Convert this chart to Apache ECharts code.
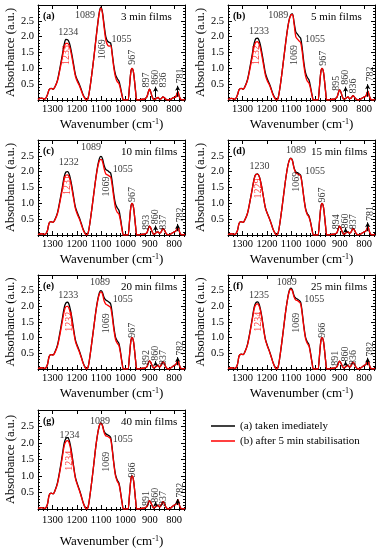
<!DOCTYPE html>
<html><head><meta charset="utf-8">
<script src="https://cdn.jsdelivr.net/npm/echarts@6/dist/echarts.min.js"></script>
<style>html,body{margin:0;padding:0;background:#fff}#c{width:380px;height:550px}</style>
</head><body><div id="c"></div>
<script>
// ---------- data ----------
const wavenumber = [1360,1345,1332,1322,1314,1306,1298,1290,1280,1270,
 1260,1252,1245,1238,1230,1222,1214,1206,1198,1190,1182,1174,1166,1160,
 1154,1146,1138,1130,1122,1114,1107,1101,1095,1088,1081,1074,1067,1061,1055,1048,1041,1034,1027,1020,1014,1008,1002,996,990,
 984,978,973,968,963,958,953,946,
 935,922,912,906,901,896,890,883,877,871,866,860,853,846,840,833,824,814,806,799,793,788,784,779,772,764,755];

const xTickLabels = [1300,1200,1100,1000,900,800];
const xMinorTicks = [1360,1340,1320,1280,1260,1240,1220,1180,1160,1140,1120,1080,1060,1040,1020,980,960,940,920,880,860,840,820,780,760];
const yTickLabels = [0.5,1.0,1.5,2.0,2.5];

const panelTags = ['(a)','(b)','(c)','(d)','(e)','(f)','(g)'];
const panelTitles = ['3 min films','5 min films','10 min films','15 min films','20 min films','25 min films','40 min films'];
const legendNames = ['(a) taken imediately','(b) after 5 min stabilisation'];

const black_a = [0.02,0.06,0.03,0.15,0.33,0.37,0.34,0.42,0.62,1.0,
 1.42,1.76,1.91,1.9,1.78,1.5,1.15,0.8,0.63,0.5,0.33,0.16,0.05,0.0,
 0.05,0.4,0.85,1.35,1.9,2.42,2.8,2.93,2.78,2.38,2.0,1.86,1.82,1.8,1.5,1.08,0.8,0.68,0.6,0.38,0.15,0.0,0.0,0.0,0.0,
 0.38,0.88,1.0,0.92,0.62,0.25,0.0,0.0,
 0.02,0.03,0.1,0.25,0.34,0.25,0.1,0.02,0.03,0.06,0.08,0.03,0.04,0.1,0.07,0.02,0.0,0.02,0.06,0.08,0.1,0.2,0.26,0.12,0.02,0.0,0.02];
const red_a = [0.02,0.06,0.03,0.15,0.33,0.37,0.34,0.42,0.6,0.95,
 1.35,1.66,1.79,1.79,1.68,1.42,1.08,0.75,0.58,0.46,0.3,0.14,0.04,0.0,
 0.05,0.4,0.85,1.35,1.88,2.4,2.78,2.9,2.75,2.3,1.9,1.74,1.7,1.72,1.45,1.02,0.72,0.58,0.52,0.33,0.13,0.0,0.0,0.0,0.0,
 0.38,0.88,1.0,0.92,0.62,0.25,0.0,0.0,
 0.02,0.03,0.1,0.25,0.34,0.25,0.1,0.02,0.03,0.06,0.08,0.03,0.04,0.1,0.07,0.02,0.0,0.02,0.06,0.08,0.1,0.2,0.26,0.12,0.02,0.0,0.02];

const black_b = [0.02,0.05,0.02,0.14,0.33,0.37,0.34,0.43,0.64,1.02,
 1.45,1.8,1.94,1.95,1.83,1.55,1.2,0.85,0.66,0.52,0.35,0.17,0.05,0.0,
 0.05,0.4,0.85,1.35,1.85,2.3,2.58,2.7,2.72,2.45,2.15,2.08,2.0,1.95,1.66,1.2,0.86,0.72,0.64,0.4,0.16,0.0,0.0,0.0,0.0,
 0.38,0.88,1.0,0.92,0.62,0.25,0.0,0.0,
 0.02,0.03,0.08,0.22,0.32,0.26,0.12,0.03,0.04,0.08,0.1,0.04,0.06,0.14,0.1,0.03,0.0,0.03,0.07,0.1,0.12,0.22,0.28,0.14,0.02,0.0,0.02];
const red_b = [0.02,0.05,0.02,0.14,0.33,0.37,0.34,0.42,0.61,0.97,
 1.38,1.7,1.83,1.84,1.73,1.46,1.12,0.78,0.6,0.48,0.32,0.15,0.04,0.0,
 0.05,0.4,0.85,1.35,1.84,2.28,2.56,2.68,2.7,2.4,2.0,1.92,1.86,1.81,1.55,1.1,0.76,0.6,0.54,0.35,0.14,0.0,0.0,0.0,0.0,
 0.38,0.88,1.0,0.92,0.62,0.25,0.0,0.0,
 0.02,0.03,0.08,0.22,0.32,0.26,0.12,0.03,0.04,0.08,0.1,0.04,0.06,0.14,0.1,0.03,0.0,0.03,0.07,0.1,0.12,0.22,0.28,0.14,0.02,0.0,0.02];

const black_c = [0.02,0.04,0.02,0.12,0.38,0.42,0.4,0.5,0.7,1.08,
 1.5,1.85,1.99,2.0,1.88,1.6,1.23,0.88,0.7,0.55,0.37,0.18,0.05,0.0,
 0.05,0.4,0.85,1.33,1.8,2.2,2.42,2.48,2.42,2.2,2.07,2.04,1.99,1.96,1.7,1.28,0.98,0.86,0.78,0.5,0.2,0.0,0.0,0.0,0.0,
 0.38,0.88,1.0,0.92,0.62,0.25,0.0,0.0,
 0.02,0.03,0.07,0.2,0.28,0.22,0.1,0.02,0.05,0.09,0.1,0.05,0.1,0.2,0.16,0.05,0.0,0.03,0.07,0.1,0.12,0.2,0.26,0.13,0.02,0.0,0.02];
const red_c = [0.02,0.04,0.02,0.12,0.38,0.42,0.4,0.48,0.67,1.03,
 1.43,1.76,1.89,1.9,1.79,1.52,1.17,0.83,0.65,0.51,0.34,0.16,0.04,0.0,
 0.05,0.4,0.85,1.32,1.78,2.15,2.35,2.39,2.33,2.1,1.93,1.9,1.86,1.83,1.58,1.18,0.85,0.72,0.66,0.43,0.17,0.0,0.0,0.0,0.0,
 0.38,0.88,1.0,0.92,0.62,0.25,0.0,0.0,
 0.02,0.03,0.07,0.2,0.28,0.22,0.1,0.02,0.05,0.09,0.1,0.05,0.1,0.2,0.16,0.05,0.0,0.03,0.07,0.1,0.12,0.2,0.26,0.13,0.02,0.0,0.02];

const black_d = [0.02,0.04,0.02,0.12,0.37,0.42,0.4,0.49,0.68,1.05,
 1.46,1.79,1.92,1.93,1.82,1.55,1.2,0.86,0.68,0.53,0.36,0.17,0.05,0.0,
 0.05,0.4,0.85,1.33,1.8,2.18,2.38,2.43,2.36,2.12,1.99,1.97,1.93,1.89,1.62,1.2,0.85,0.68,0.6,0.4,0.17,0.0,0.0,0.0,0.0,
 0.38,0.88,1.0,0.92,0.62,0.25,0.0,0.0,
 0.02,0.03,0.07,0.2,0.28,0.22,0.1,0.02,0.05,0.09,0.1,0.05,0.1,0.2,0.16,0.05,0.0,0.03,0.07,0.1,0.12,0.2,0.26,0.13,0.02,0.0,0.02];
const red_d = [0.02,0.04,0.02,0.12,0.37,0.42,0.4,0.49,0.68,1.04,
 1.45,1.78,1.91,1.92,1.81,1.54,1.19,0.85,0.67,0.52,0.35,0.17,0.05,0.0,
 0.05,0.4,0.85,1.33,1.8,2.17,2.37,2.42,2.35,2.1,1.96,1.93,1.9,1.86,1.6,1.18,0.82,0.65,0.57,0.38,0.16,0.0,0.0,0.0,0.0,
 0.38,0.88,1.0,0.92,0.62,0.25,0.0,0.0,
 0.02,0.03,0.07,0.2,0.28,0.22,0.1,0.02,0.05,0.09,0.1,0.05,0.1,0.2,0.16,0.05,0.0,0.03,0.07,0.1,0.12,0.2,0.26,0.13,0.02,0.0,0.02];

const black_e = [0.02,0.04,0.02,0.12,0.4,0.46,0.45,0.55,0.76,1.15,
 1.6,1.96,2.11,2.13,2.0,1.7,1.3,0.93,0.74,0.58,0.39,0.19,0.05,0.0,
 0.05,0.42,0.88,1.36,1.84,2.22,2.44,2.5,2.45,2.28,2.2,2.17,2.13,2.08,1.8,1.35,1.02,0.9,0.82,0.52,0.2,0.0,0.0,0.0,0.0,
 0.38,0.88,1.0,0.92,0.62,0.25,0.0,0.0,
 0.02,0.03,0.07,0.19,0.26,0.21,0.1,0.03,0.06,0.1,0.12,0.06,0.12,0.23,0.18,0.05,0.0,0.03,0.08,0.12,0.14,0.22,0.28,0.14,0.02,0.0,0.02];
const red_e = [0.02,0.04,0.02,0.12,0.4,0.46,0.44,0.53,0.72,1.09,
 1.51,1.85,1.99,2.0,1.88,1.6,1.23,0.88,0.7,0.55,0.37,0.18,0.05,0.0,
 0.05,0.42,0.88,1.35,1.82,2.19,2.4,2.46,2.4,2.18,2.07,2.04,2.0,1.96,1.7,1.27,0.95,0.82,0.75,0.48,0.18,0.0,0.0,0.0,0.0,
 0.38,0.88,1.0,0.92,0.62,0.25,0.0,0.0,
 0.02,0.03,0.07,0.19,0.26,0.21,0.1,0.03,0.06,0.1,0.12,0.06,0.12,0.23,0.18,0.05,0.0,0.03,0.08,0.12,0.14,0.22,0.28,0.14,0.02,0.0,0.02];

const black_f = [0.02,0.04,0.02,0.12,0.42,0.47,0.46,0.56,0.78,1.17,
 1.62,1.98,2.12,2.14,2.02,1.72,1.32,0.95,0.75,0.58,0.39,0.19,0.05,0.0,
 0.05,0.42,0.88,1.38,1.88,2.28,2.52,2.58,2.52,2.34,2.26,2.23,2.19,2.13,1.83,1.38,1.02,0.87,0.78,0.5,0.2,0.0,0.0,0.0,0.0,
 0.38,0.88,1.0,0.92,0.62,0.25,0.0,0.0,
 0.02,0.03,0.07,0.18,0.25,0.2,0.1,0.03,0.06,0.1,0.12,0.06,0.11,0.22,0.17,0.05,0.0,0.03,0.08,0.12,0.14,0.22,0.28,0.14,0.02,0.0,0.02];
const red_f = [0.02,0.04,0.02,0.12,0.42,0.47,0.46,0.55,0.76,1.14,
 1.58,1.93,2.06,2.08,1.97,1.68,1.29,0.93,0.73,0.57,0.38,0.19,0.05,0.0,
 0.05,0.42,0.88,1.38,1.87,2.26,2.5,2.55,2.49,2.3,2.2,2.18,2.14,2.08,1.78,1.34,0.98,0.82,0.74,0.47,0.19,0.0,0.0,0.0,0.0,
 0.38,0.88,1.0,0.92,0.62,0.25,0.0,0.0,
 0.02,0.03,0.07,0.18,0.25,0.2,0.1,0.03,0.06,0.1,0.12,0.06,0.11,0.22,0.17,0.05,0.0,0.03,0.08,0.12,0.14,0.22,0.28,0.14,0.02,0.0,0.02];

const black_g = [0.02,0.04,0.02,0.12,0.42,0.48,0.46,0.56,0.79,1.18,
 1.63,2.0,2.14,2.16,2.04,1.73,1.33,0.96,0.76,0.59,0.4,0.19,0.05,0.0,
 0.05,0.42,0.88,1.38,1.9,2.3,2.54,2.6,2.54,2.36,2.28,2.25,2.22,2.17,1.86,1.4,1.04,0.88,0.79,0.5,0.2,0.0,0.0,0.0,0.0,
 0.38,0.88,1.0,0.92,0.62,0.25,0.0,0.0,
 0.02,0.03,0.07,0.18,0.25,0.2,0.1,0.03,0.06,0.1,0.12,0.06,0.11,0.22,0.17,0.05,0.0,0.03,0.08,0.12,0.14,0.22,0.28,0.14,0.02,0.0,0.02];
const red_g = [0.02,0.04,0.02,0.12,0.42,0.48,0.46,0.55,0.76,1.13,
 1.56,1.92,2.05,2.07,1.96,1.67,1.29,0.93,0.73,0.57,0.38,0.19,0.05,0.0,
 0.05,0.42,0.88,1.38,1.9,2.3,2.54,2.6,2.53,2.32,2.22,2.2,2.17,2.12,1.82,1.37,1.0,0.84,0.75,0.48,0.19,0.0,0.0,0.0,0.0,
 0.38,0.88,1.0,0.92,0.62,0.25,0.0,0.0,
 0.02,0.03,0.07,0.18,0.25,0.2,0.1,0.03,0.06,0.1,0.12,0.06,0.11,0.22,0.17,0.05,0.0,0.03,0.08,0.12,0.14,0.22,0.28,0.14,0.02,0.0,0.02];

// peak notes: [text, wavenumber, absorbance, vertical?, red?]
const notes_a = [['1234',1235,2.14,0,0],['1233',1242,1.42,1,1],['1089',1167,2.68,0,0],['1055',1016,1.92,0,0],['1069',1093,1.6,1,0],['967',972,1.35,1,0],['897',913,0.63,1,0],['860',877,0.72,1,0],['836',844,0.63,1,0],['781',776,0.76,1,0]];
const notes_b = [['1233',1232,2.16,0,0],['1232',1242,1.42,1,1],['1089',1153,2.68,0,0],['1055',1002,1.9,0,0],['1069',1087,1.42,1,0],['967',968,1.32,1,0],['895',913,0.53,1,0],['860',877,0.72,1,0],['836',844,0.44,1,0],['782',776,0.82,1,0]];
const notes_c = [['1232',1233,2.29,0,0],['1231',1238,1.58,1,1],['1089',1142,2.76,0,0],['1055',1011,2.08,0,0],['1069',1080,1.53,1,0],['967',972,1.28,1,0],['893',913,0.4,1,0],['860',877,0.58,1,0],['837',844,0.4,1,0],['782',776,0.63,1,0]];
const notes_d = [['1230',1230,2.16,0,0],['1229',1236,1.47,1,1],['1089',1080,2.68,0,0],['1055',1002,2.0,0,0],['1069',1080,1.68,1,0],['967',972,1.26,1,0],['894',913,0.42,1,0],['860',877,0.44,1,0],['837',844,0.42,1,0],['781',776,0.68,1,0]];
const notes_e = [['1233',1235,2.36,0,0],['1232',1232,1.51,1,1],['1089',1105,2.76,0,0],['1055',1011,2.22,0,0],['1069',1080,1.46,1,0],['967',972,1.24,1,0],['892',913,0.37,1,0],['860',877,0.5,1,0],['837',844,0.37,1,0],['782',776,0.66,1,0]];
const notes_f = [['1235',1232,2.36,0,0],['1234',1235,1.51,1,1],['1089',1118,2.76,0,0],['1055',1005,2.22,0,0],['1069',1080,1.48,1,0],['966',972,1.24,1,0],['891',917,0.34,1,0],['860',877,0.48,1,0],['836',844,0.37,1,0],['782',776,0.63,1,0]];
const notes_g = [['1234',1230,2.24,0,0],['1234',1232,1.46,1,1],['1089',1105,2.67,0,0],['1055',1011,2.12,0,0],['1069',1080,1.43,1,0],['966',972,1.18,1,0],['891',913,0.32,1,0],['860',877,0.42,1,0],['837',844,0.32,1,0],['782',776,0.57,1,0]];

// arrows: [wavenumber, from, to]
const arrows_a = [[876,0.08,0.42],[785,0.1,0.45]];
const arrows_b = [[876,0.1,0.42],[785,0.1,0.5]];
const arrows_c = [[876,0.1,0.3],[785,0.12,0.35]];
const arrows_d = [[876,0.1,0.22],[785,0.12,0.4]];
const arrows_e = [[876,0.12,0.25],[785,0.12,0.38]];
const arrows_f = [[876,0.12,0.25],[785,0.12,0.36]];
const arrows_g = [[876,0.12,0.22],[785,0.12,0.3]];

// ---------- layout ----------
const FONT = '"Liberation Serif", "Times New Roman", serif';
const rects = [
  {left:38, top:5, width:147, height:95},
  {left:228, top:5, width:147, height:95},
  {left:38, top:140, width:147, height:95},
  {left:228, top:140, width:147, height:95},
  {left:38, top:275, width:147, height:94},
  {left:228, top:275, width:147, height:94},
  {left:38, top:410, width:147, height:99}
];
const blacks = [black_a,black_b,black_c,black_d,black_e,black_f,black_g];
const reds = [red_a,red_b,red_c,red_d,red_e,red_f,red_g];
const notes = [notes_a,notes_b,notes_c,notes_d,notes_e,notes_f,notes_g];
const arrows = [arrows_a,arrows_b,arrows_c,arrows_d,arrows_e,arrows_f,arrows_g];

const grid = [], xAxis = [], yAxis = [], series = [], graphic = [];
const XMIN = 755, XMAX = 1360;
const line = {show:true, onZero:false, lineStyle:{color:'#000', width:1}};

rects.forEach((r, p) => {
  grid.push({left:r.left, top:r.top, width:r.width, height:r.height, containLabel:false});
  const lastRow = p === 6;
  const xBase = {gridIndex:p, type:'value', min:XMIN, max:XMAX, inverse:true, splitLine:{show:false}};
  xAxis.push(Object.assign({}, xBase, {
    position:'bottom', axisLine:line,
    axisTick:{show:true, inside:true, length:4, customValues:xTickLabels, lineStyle:{color:'#000'}},
    axisLabel:{show:true, customValues:xTickLabels, margin:lastRow?6:4, fontSize:10.5, color:'#000', fontFamily:FONT, formatter:v=>String(v)},
    name:'{a|Wavenumber (cm}{s|-1}{a|)}', nameLocation:'middle', nameGap:lastRow?26:18,
    nameTextStyle:{rich:{a:{fontSize:13, fontFamily:FONT, color:'#000'}, s:{fontSize:8, fontFamily:FONT, color:'#000', verticalAlign:'top'}}}
  }));
  xAxis.push(Object.assign({}, xBase, {position:'bottom', axisLine:{show:false},
    axisTick:{show:true, inside:true, length:2, customValues:xMinorTicks, lineStyle:{color:'#000'}}, axisLabel:{show:false}}));
  xAxis.push(Object.assign({}, xBase, {position:'top', axisLine:line,
    axisTick:{show:true, inside:true, length:4, customValues:xTickLabels, lineStyle:{color:'#000'}}, axisLabel:{show:false}}));
  xAxis.push(Object.assign({}, xBase, {position:'top', axisLine:{show:false},
    axisTick:{show:true, inside:true, length:2, customValues:xMinorTicks, lineStyle:{color:'#000'}}, axisLabel:{show:false}}));

  const yBase = {gridIndex:p, type:'value', min:0, max:3, interval:0.5, splitLine:{show:false},
    minorTick:{show:true, splitNumber:5, length:2, lineStyle:{color:'#000'}}};
  yAxis.push(Object.assign({}, yBase, {position:'left', axisLine:line,
    axisTick:{show:true, inside:true, length:4, lineStyle:{color:'#000'}},
    axisLabel:{show:true, customValues:yTickLabels, margin:4, fontSize:10.5, color:'#000', fontFamily:FONT, formatter:v=>v.toFixed(1)},
    name:'Absorbance (a.u.)', nameLocation:'middle', nameGap:21,
    nameTextStyle:{fontSize:12.5, fontFamily:FONT, color:'#000'}}));
  yAxis.push(Object.assign({}, yBase, {position:'right', axisLine:line,
    axisTick:{show:true, inside:true, length:4, lineStyle:{color:'#000'}}, axisLabel:{show:false}}));

  const xi = p*4, yi = p*2;
  [[blacks[p], '#000000', legendNames[0]], [reds[p], '#ff0000', legendNames[1]]].forEach(([vals, col, nm], k) => {
    series.push({type:'line', name:nm, xAxisIndex:xi, yAxisIndex:yi,
      data: wavenumber.map((w,i)=>[w, vals[i]]),
      showSymbol:false, symbol:'none', smooth:0.35, clip:true, z:2+k,
      color:col, lineStyle:{color:col, width:1.3}, emphasis:{disabled:true}});
  });

  series.push({type:'scatter', xAxisIndex:xi, yAxisIndex:yi, silent:true, symbolSize:1,
    itemStyle:{color:'rgba(0,0,0,0)'}, z:5, clip:false, emphasis:{disabled:true},
    data: notes[p].map(n => ({value:[n[1], n[2]], label:{show:true, position:'inside', formatter:n[0],
      rotate:n[3]?90:0, color:n[4]?'#ff0000':'#000', fontSize:10, fontFamily:FONT}})),
    markLine:{silent:true, symbol:['none','arrow'], symbolSize:[4,5], label:{show:false},
      lineStyle:{color:'#000', width:1, type:'solid'}, animation:false,
      data: arrows[p].map(a => [{coord:[a[0], a[1]]}, {coord:[a[0], a[2]]}])}
  });

  graphic.push({type:'text', left:r.left+5, top:r.top+6, style:{text:panelTags[p], font:'bold 10px '+FONT, fill:'#000'}});
  graphic.push({type:'text', left:r.left+83, top:r.top+7, style:{text:panelTitles[p], font:'11px '+FONT, fill:'#000'}});
});

const chart = echarts.init(document.getElementById('c'), null, {renderer:'canvas'});
chart.setOption({
  animation:false,
  backgroundColor:'#fff',
  grid, xAxis, yAxis, series, graphic,
  legend:{show:true, orient:'vertical', left:206, top:415, itemWidth:24, itemHeight:1.5, itemGap:3, icon:'rect',
    data:legendNames, textStyle:{fontSize:11, fontFamily:FONT, color:'#000', lineHeight:12}, selectedMode:false}
});
</script>
</body></html>
